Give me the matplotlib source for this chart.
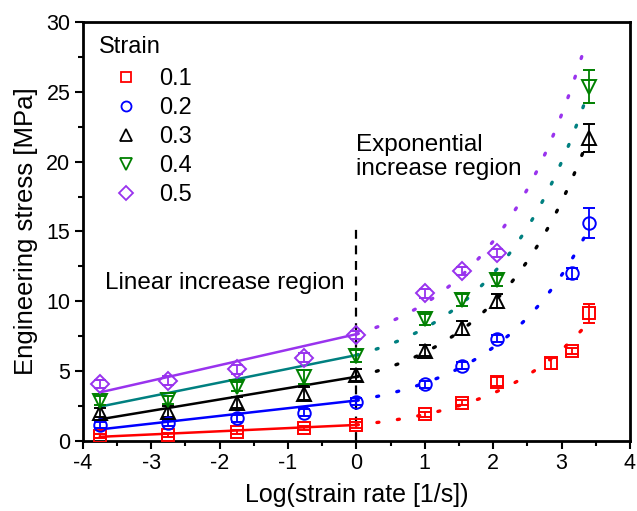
import numpy as np
import matplotlib
matplotlib.use("Agg")
import matplotlib.pyplot as plt
from matplotlib.lines import Line2D

plt.rcParams['font.family'] = ['Liberation Sans', 'DejaVu Sans']
plt.rcParams['axes.unicode_minus'] = False

strain_labels = ['0.1', '0.2', '0.3', '0.4', '0.5']

x_red = [-3.75, -2.75, -1.75, -0.76, 0.0, 1.0, 1.55, 2.05, 2.85, 3.15, 3.4]
y_red = [0.36, 0.43, 0.67, 0.91, 1.15, 1.9, 2.75, 4.25, 5.56, 6.46, 9.14]
e_red = [0.15, 0.15, 0.15, 0.15, 0.2, 0.2, 0.2, 0.3, 0.4, 0.2, 0.7]

x_blue = [-3.75, -2.75, -1.75, -0.76, 0.0, 1.0, 1.55, 2.05, 3.15, 3.4]
y_blue = [1.15, 1.27, 1.62, 2.03, 2.81, 4.06, 5.37, 7.32, 12.0, 15.6]
e_blue = [0.2, 0.2, 0.25, 0.25, 0.25, 0.25, 0.25, 0.25, 0.4, 1.1]

x_black = [-3.75, -2.75, -1.75, -0.76, 0.0, 1.0, 1.55, 2.05, 3.4]
y_black = [2.03, 2.1, 2.75, 3.4, 4.72, 6.46, 8.07, 10.04, 21.67]
e_black = [0.3, 0.4, 0.4, 0.5, 0.4, 0.4, 0.5, 0.5, 1.0]

x_green = [-3.75, -2.75, -1.75, -0.76, 0.0, 1.0, 1.55, 2.05, 3.4]
y_green = [2.89, 2.93, 3.89, 4.6, 6.08, 8.71, 10.09, 11.52, 25.37]
e_green = [0.3, 0.3, 0.3, 0.5, 0.4, 0.4, 0.4, 0.4, 1.2]

x_purple = [-3.75, -2.75, -1.75, -0.76, 0.0, 1.0, 1.55, 2.05]
y_purple = [4.06, 4.32, 5.13, 5.97, 7.59, 10.57, 12.19, 13.48]
e_purple = [0.3, 0.3, 0.3, 0.3, 0.3, 0.3, 0.3, 0.3]

# linear fit (log strain rate < 0): y = intercept + slope * x
lin_intercept = [1.15, 2.9, 4.6, 6.15, 7.65]
lin_slope = [0.227, 0.552, 0.813, 0.984, 1.112]
# exponential fit (x >= 0): y = c + A * exp(B * x)
exp_c = [0.425, 1.69, 2.91, 4.285, 5.53]
exp_A = [0.725, 1.21, 1.69, 1.865, 2.12]
exp_B = [0.71, 0.71, 0.71, 0.71, 0.71]

marker_colors = ['#ff0000', '#0000ff', '#000000', '#008000', '#9933ee']
line_colors = ['#ff0000', '#0000ff', '#000000', '#008080', '#9933ee']
markers = ['s', 'o', '^', 'v', 'D']
msizes = [8.5, 9, 10, 10, 9.5]

xs = [x_red, x_blue, x_black, x_green, x_purple]
ys = [y_red, y_blue, y_black, y_green, y_purple]
es = [e_red, e_blue, e_black, e_green, e_purple]

fig = plt.figure(figsize=(6.37, 5.11), dpi=100)
ax = fig.add_axes([0.130, 0.137, 0.859, 0.820])

for i in range(5):
    xl = np.linspace(-3.75, 0, 50)
    ax.plot(xl, lin_intercept[i] + lin_slope[i] * xl, color=line_colors[i], lw=1.8, zorder=2)
    xe = np.linspace(0, 3.35, 200)
    ax.plot(xe, exp_c[i] + exp_A[i] * np.exp(exp_B[i] * xe), color=line_colors[i],
            lw=2.4, linestyle=(0, (0.6, 5.6)), dash_capstyle='round', zorder=2)
    ax.errorbar(xs[i], ys[i], yerr=es[i], fmt=markers[i], ms=msizes[i], mfc='none',
                mec=marker_colors[i], mew=1.4, ecolor=marker_colors[i], elinewidth=1.3,
                capsize=4.5, capthick=1.3, zorder=3)

ax.plot([0, 0], [0, 15.5], color='black', lw=1.6, linestyle=(0, (4, 3)), zorder=1)

ax.text(-3.68, 11.3, 'Linear increase region', fontsize=17.5, va='center', ha='left')
ax.text(0.0, 20.35, 'Exponential\nincrease region', fontsize=17.5, va='center', ha='left',
        linespacing=1.1)

ax.set_xlim(-4, 4)
ax.set_ylim(0, 30)
ax.set_xticks(np.arange(-4, 5, 1))
ax.set_yticks(np.arange(0, 31, 5))
ax.set_xticks(np.arange(-3.5, 4, 1), minor=True)
ax.set_yticks(np.arange(2.5, 30, 5), minor=True)
ax.tick_params(axis='both', which='major', direction='out', length=6, width=1.5,
               labelsize=15.5, top=False, right=False, pad=3)
ax.tick_params(axis='both', which='minor', direction='out', length=3.5, width=1.5,
               top=False, right=False)
for s in ax.spines.values():
    s.set_linewidth(2)

ax.set_xlabel('Log(strain rate [1/s])', fontsize=18, labelpad=6)
ax.set_ylabel('Engineering stress [MPa]', fontsize=18.5, labelpad=6)

ax.text(0.029, 0.940, 'Strain', transform=ax.transAxes, fontsize=17, va='center', ha='left')
handles = [Line2D([], [], linestyle='none', marker=markers[i], ms=msizes[i] * 0.8,
                  mfc='none', mec=marker_colors[i], mew=1.3) for i in range(5)]
leg = ax.legend(handles, strain_labels, loc='upper left',
                bbox_to_anchor=(0.028, 0.913), frameon=False, fontsize=17,
                handletextpad=0.6, labelspacing=0.3, borderaxespad=0.0,
                handlelength=1.6)

fig.savefig('out.png', dpi=100)
